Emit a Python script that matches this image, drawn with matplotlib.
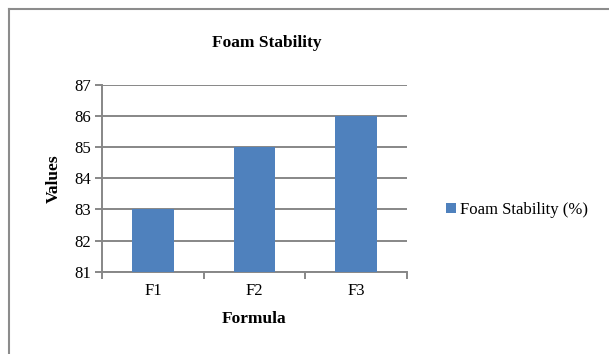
import matplotlib
matplotlib.use("Agg")
import matplotlib.pyplot as plt
from matplotlib.lines import Line2D
from matplotlib.patches import Patch

categories = ["F1", "F2", "F3"]
values = [83, 85, 86]
yticks = [81, 82, 83, 84, 85, 86, 87]
series_name = "Foam Stability (%)"

plt.rcParams['font.family'] = ['Liberation Serif', 'DejaVu Serif']

bar_color = "#4F81BD"
grid_color = "#878787"

fig = plt.figure(figsize=(6.09, 3.54), dpi=100)
ax = fig.add_axes([102/609, 1-271.7/354, (407-102)/609, (271.7-85)/354])

x = range(len(categories))
ax.bar(list(x), values, width=0.41, color=bar_color, zorder=3, bottom=0)
ax.set_ylim(81, 87)
ax.set_xlim(-0.5, 2.5)
ax.set_yticks(yticks)
ax.set_yticklabels([str(v) for v in yticks], fontsize=12)
ax.yaxis.grid(True, color=grid_color, linewidth=1.4, zorder=0)

ax.set_xticks(list(x))
ax.set_xticklabels(categories, fontsize=12)
ax.tick_params(axis='x', which='major', length=0, pad=8)
ax.set_xticks([-0.5, 0.5, 1.5, 2.5], minor=True)
ax.tick_params(axis='x', which='minor', length=5, width=1.4, color=grid_color)
ax.tick_params(axis='y', length=5, width=1.4, color=grid_color, pad=3)

for s in ['top', 'right']:
    ax.spines[s].set_visible(False)
for s in ['left', 'bottom']:
    ax.spines[s].set_color(grid_color)
    ax.spines[s].set_linewidth(1.4)

ax.set_ylabel("Values", fontsize=12.5, fontweight='bold', labelpad=9)
ax.set_xlabel("Formula", fontsize=12.5, fontweight='bold', labelpad=9)

fig.text(267/609, 1-43/354, "Foam Stability", ha='center', va='center',
         fontsize=12.5, fontweight='bold')

fig.legend(handles=[Patch(facecolor=bar_color, label=series_name)],
           loc='center left', bbox_to_anchor=(439/609, 1-210/354),
           frameon=False, fontsize=12, handlelength=0.6, handleheight=0.6,
           handletextpad=0.25, borderaxespad=0)

# outer frame (top and left edges visible)
fig.add_artist(Line2D([8.5/609, 1.0], [1-9/354, 1-9/354], color="#8C8C8C", linewidth=1.5))
fig.add_artist(Line2D([8.5/609, 8.5/609], [0, 1-9/354], color="#8C8C8C", linewidth=1.5))

fig.savefig("out.png", dpi=100)
